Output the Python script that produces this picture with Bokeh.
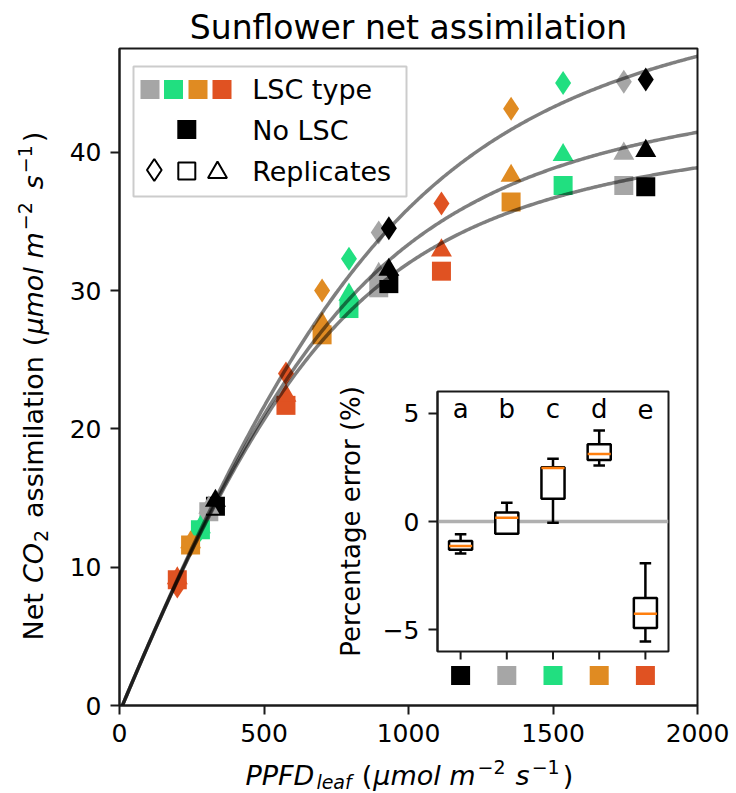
import numpy as np
from bokeh.plotting import figure
from bokeh.models import FixedTicker, Span, Range1d
from bokeh.layouts import column
from bokeh.embed import file_html
from bokeh.resources import INLINE
from bokeh.core.properties import value

FONT = "DejaVu Sans"

# ------------------------------------------------------------------ data
# LSC types in inset order (a..e): No LSC (black), grey, green, orange, red
lsc_colors = ["#000000", "#a6a6a6", "#21df80", "#e08b22", "#e05222"]
draw_order = [1, 2, 3, 4, 0]          # coloured LSCs first, "No LSC" on top

# PPFD_leaf at the three light levels, per LSC type
ppfd_low = [332, 309, 280, 246, 200]
ppfd_mid = [932, 897, 794, 701, 576]
ppfd_high = [1821, 1745, 1535, 1355, 1114]

# net CO2 assimilation per replicate (marker) and light level
diamond_low = [14.5, 14.1, 12.7, 11.6, 8.6]
diamond_mid = [34.5, 34.2, 32.3, 30.0, 24.0]
diamond_high = [45.25, 45.1, 45.0, 43.15, 36.3]
square_low = [14.4, 14.0, 12.7, 11.6, 9.1]
square_mid = [30.5, 30.2, 28.7, 26.8, 21.7]
square_high = [37.5, 37.6, 37.6, 36.4, 31.4]
triangle_low = [14.8, 14.3, 12.9, 11.8, 9.2]
triangle_mid = [31.5, 31.2, 29.7, 27.6, 22.4]
triangle_high = [40.1, 39.9, 39.8, 38.3, 32.9]

# light-response fits (non-rectangular hyperbola), one per replicate
fit_phi = [0.050, 0.050, 0.050]
fit_theta = [0.80, 0.80, 0.80]
fit_amax = [56.0, 44.5, 48.0]
fit_rd = [0.5, 0.5, 0.5]

# inset: percentage error per LSC type
err_letters = ["a", "b", "c", "d", "e"]
err_whisker_lo = [-1.48, -0.57, -0.06, 2.58, -5.54]
err_q1 = [-1.30, -0.56, 1.05, 2.84, -4.91]
err_median = [-1.13, 0.17, 2.47, 3.12, -4.26]
err_q3 = [-0.90, 0.42, 2.50, 3.56, -3.53]
err_whisker_hi = [-0.59, 0.86, 2.90, 4.20, -1.93]

main_ticks_x = [0, 500, 1000, 1500, 2000]
main_ticks_y = [0, 10, 20, 30, 40]
inset_ticks_y = [-5, 0, 5]

legend_texts = ["LSC type", "No LSC", "Replicates"]
title_text = "Sunflower net assimilation"

# axis titles split into pieces: (text, size px, style, baseline shift, gap before)
SP = 10  # width of a word space
xlabel_pieces = [("PPFD", 27, "italic", 0, 0), ("leaf", 19, "italic", 4, 2),
                 ("(", 27, "normal", 0, SP), ("\u03bcmol m", 27, "italic", 0, 1),
                 ("\u22122", 19, "normal", -11, 2), ("s", 27, "italic", 0, SP),
                 ("\u22121", 19, "normal", -11, 2), (")", 27, "normal", 0, 3)]
ylabel_pieces = [("Net", 27, "normal", 0, 0), ("CO", 27, "italic", 0, SP),
                 ("2", 19, "normal", 5, 1), ("assimilation", 27, "normal", 0, SP + 2),
                 ("(", 27, "normal", 0, SP), ("\u03bcmol m", 27, "italic", 0, 1),
                 ("\u22122", 19, "normal", -11, 2), ("s", 27, "italic", 0, SP + 3),
                 ("\u22121", 19, "normal", -11, 2), (")", 27, "normal", 0, 3)]

# ------------------------------------------------------------------ layout helpers
X_END, Y_END = 2000, 47.5
FW, FH = 578, 657
FL, FT = 119, 48          # page position of the main frame's top-left corner
BR = 36                   # right border shared by every figure of the column
BL_FIX = 0.35             # text glyphs sit this many em below the requested baseline

# approximate DejaVu Sans advance widths (em) used to chain the label pieces
ADV = {"P": .603, "F": .575, "D": .770, "l": .278, "e": .615, "a": .613, "f": .352,
       "(": .390, ")": .390, "\u03bc": .636, "m": .974, "o": .612, " ": .318,
       "\u2212": .838, "1": .636, "2": .636, "s": .521, "N": .748, "t": .392,
       "C": .698, "O": .787, "i": .278, "n": .634}


def text_width(txt, size):
    return sum(ADV.get(ch, 0.6) for ch in txt) * size


def dx(px):
    return (px - FL) / FW * X_END


def dy(py):
    return (FT + FH - py) / FH * Y_END


def style_axis(ax, size="25px"):
    ax.major_tick_out = 9
    ax.major_tick_in = 0
    ax.minor_tick_out = 0
    ax.minor_tick_in = 0
    ax.major_tick_line_width = 2
    ax.major_tick_line_color = "#1a1a1a"
    ax.axis_line_width = 2
    ax.axis_line_color = "#1a1a1a"
    ax.major_label_text_font = FONT
    ax.major_label_text_font_size = size
    ax.major_label_text_color = "black"
    ax.major_label_standoff = 9
    ax.axis_label_text_font = FONT
    ax.axis_label_text_font_style = "normal"
    ax.axis_label_text_color = "black"


def strip(frame_w, frame_h, x_range, y_range):
    """transparent helper figure with the same side borders as the main plot"""
    f = figure(frame_width=frame_w, frame_height=frame_h, x_range=x_range, y_range=y_range,
               min_border_left=FL, min_border_right=BR, min_border_top=0,
               min_border_bottom=0, x_axis_type=None, y_axis_type=None,
               output_backend="svg", toolbar_location=None)
    f.xgrid.visible = False
    f.ygrid.visible = False
    f.outline_line_color = None
    f.border_fill_alpha = 0
    f.background_fill_alpha = 0
    return f


# The column is stacked with explicit margins so that every piece lands on its
# page position; the main plot comes last (on top, transparent background).
flow = 0   # current bottom of the column's flow, page px

# ------------------------------------------------------------------ y-axis title strip
YL_LEFT, YL_W, YL_TOP, YL_H = 4, 56, 100, 560
yl = strip(YL_W, YL_H, Range1d(YL_LEFT, YL_LEFT + YL_W), Range1d(-(YL_TOP + YL_H), -YL_TOP))
Y_BASE, cy = 42, 640.0
for txt, size, style, shift, gap in ylabel_pieces:
    cy -= gap
    yl.text(x=[Y_BASE + shift - BL_FIX * size], y=[-cy], text=[txt], text_font=value(FONT),
            text_font_size=value(f"{size}px"), text_font_style=style, angle=np.pi / 2,
            text_baseline="alphabetic", text_align="left", text_color="black")
    cy -= text_width(txt, size)
yl.margin = (YL_TOP - flow, 0, 0, YL_LEFT - FL)
flow = YL_TOP + YL_H

# ------------------------------------------------------------------ x-axis title strip
XL_TOP, XL_H = 756, 37
xl = strip(FW, XL_H, Range1d(FL, FL + FW), Range1d(-(XL_TOP + XL_H), -XL_TOP))
X_BASE, cx = 784, 245.0
for txt, size, style, shift, gap in xlabel_pieces:
    cx += gap
    xl.text(x=[cx], y=[-(X_BASE + shift - BL_FIX * size)], text=[txt], text_font=value(FONT),
            text_font_size=value(f"{size}px"), text_font_style=style,
            text_baseline="alphabetic", text_align="left", text_color="black")
    cx += text_width(txt, size)
xl.margin = (XL_TOP - flow, 0, 0, 0)
flow = XL_TOP + XL_H

# ------------------------------------------------------------------ inset figure
cats = list(range(1, len(err_letters) + 1))
Q_FRAME_LEFT, Q_TOP, Q_H = 437, 386, 260
q = figure(frame_width=231, frame_height=Q_H, x_range=(0.5, len(cats) + 0.5),
           y_range=(-6, 6), min_border_left=FL, min_border_right=BR,
           min_border_top=5, min_border_bottom=5, x_axis_type=None,
           output_backend="svg", toolbar_location=None)
q.xgrid.visible = False
q.ygrid.visible = False
q.outline_line_color = "#1a1a1a"
q.outline_line_width = 2
q.outline_line_alpha = 1
q.border_fill_alpha = 0
q.background_fill_color = "white"
style_axis(q.yaxis[0])
q.yaxis.ticker = FixedTicker(ticks=inset_ticks_y)
q.yaxis.major_label_overrides = {t: (f"\u2212{abs(t)}" if t < 0 else str(t)) for t in inset_ticks_y}
q.yaxis.axis_label = "Percentage error (%)"
q.yaxis.axis_label_text_font_size = "26px"
q.yaxis.axis_label_standoff = 14

q.add_layout(Span(location=0, dimension="width", line_color="#b0b0b0",
                  line_width=3.5, level="underlay"))
q.segment(x0=cats, y0=err_q3, x1=cats, y1=err_whisker_hi, line_color="black", line_width=2.5)
q.segment(x0=cats, y0=err_q1, x1=cats, y1=err_whisker_lo, line_color="black", line_width=2.5)
q.segment(x0=[c - 0.125 for c in cats], y0=err_whisker_hi, x1=[c + 0.125 for c in cats],
          y1=err_whisker_hi, line_color="black", line_width=2.5)
q.segment(x0=[c - 0.125 for c in cats], y0=err_whisker_lo, x1=[c + 0.125 for c in cats],
          y1=err_whisker_lo, line_color="black", line_width=2.5)
q.quad(left=[c - 0.25 for c in cats], right=[c + 0.25 for c in cats], bottom=err_q1,
       top=err_q3, fill_color="white", line_color="black", line_width=2.5)
q.segment(x0=[c - 0.25 for c in cats], y0=err_median, x1=[c + 0.25 for c in cats],
          y1=err_median, line_color="#ff7f0e", line_width=2.5)
letter_y = 4.75 + BL_FIX * 26 / (Q_H / 12.0)
q.text(x=cats, y=[letter_y] * len(cats), text=err_letters, text_font=value(FONT),
       text_font_size="26px", text_align="center", text_baseline="alphabetic",
       text_color="black")
q.margin = (Q_TOP - flow, 0, 0, Q_FRAME_LEFT - FL)
flow = Q_TOP + 5 + Q_H + 5

# category ticks and colour keys under the inset
S_TOP, S_H = 651, 37
s = strip(231, S_H, q.x_range, Range1d(-(S_TOP + S_H), -S_TOP))
s.segment(x0=cats, y0=[-S_TOP] * len(cats), x1=cats, y1=[-(S_TOP + 8)] * len(cats),
          line_color="#1a1a1a", line_width=2)
s.scatter(x=cats, y=[-675] * len(cats), marker="square", size=19, fill_color=lsc_colors,
          line_color=None)
s.margin = (S_TOP - flow, 0, 0, Q_FRAME_LEFT - FL)
flow = S_TOP + S_H

# ------------------------------------------------------------------ main figure
p = figure(frame_width=FW, frame_height=FH, x_range=(0, X_END), y_range=(0, Y_END),
           min_border_left=FL, min_border_right=BR, min_border_top=FT,
           min_border_bottom=52, title=title_text,
           output_backend="svg", toolbar_location=None)
p.border_fill_alpha = 0
p.background_fill_alpha = 0
p.title.text_font = FONT
p.title.text_font_size = "33px"
p.title.text_font_style = "normal"
p.title.text_color = "black"
p.title.align = "center"
p.title.standoff = 3
p.xgrid.visible = False
p.ygrid.visible = False
p.outline_line_color = "#1a1a1a"
p.outline_line_width = 2
p.outline_line_alpha = 1
style_axis(p.xaxis[0])
style_axis(p.yaxis[0])
p.xaxis.ticker = FixedTicker(ticks=main_ticks_x)
p.yaxis.ticker = FixedTicker(ticks=main_ticks_y)

replicates = [("diamond", 24, diamond_low, diamond_mid, diamond_high),
              ("square", 19, square_low, square_mid, square_high),
              ("triangle", 21, triangle_low, triangle_mid, triangle_high)]
for name, size, lo, mid, hi in replicates:
    xs, ys, cs = [], [], []
    for i in draw_order:
        for xv, yv in ((ppfd_low[i], lo[i]), (ppfd_mid[i], mid[i]), (ppfd_high[i], hi[i])):
            xs.append(xv)
            ys.append(yv)
            cs.append(lsc_colors[i])
    p.scatter(x=xs, y=ys, marker=name, size=size, fill_color=cs, line_color=None)

ppfd_curve = np.linspace(0, X_END, 401)
for phi, th, am, rd in zip(fit_phi, fit_theta, fit_amax, fit_rd):
    b = phi * ppfd_curve + am
    ag = (b - np.sqrt(b * b - 4 * th * phi * ppfd_curve * am)) / (2 * th)
    p.line(ppfd_curve, ag - rd, line_color="black", line_alpha=0.5, line_width=3.5)

# legend (drawn by hand: a row of four colour swatches is not a Bokeh legend item)
p.quad(left=dx(133), right=dx(406), top=dy(66), bottom=dy(196),
       fill_color="white", fill_alpha=0.8, line_color="#cccccc", line_width=2)
p.scatter(x=[dx(v) for v in (149.5, 173, 197.5, 221.5)], y=[dy(89)] * 4,
          marker="square", size=19, fill_color=[lsc_colors[i] for i in (1, 2, 3, 4)],
          line_color=None)
p.scatter(x=[dx(186.3)], y=[dy(129)], marker="square", size=19,
          fill_color=lsc_colors[0], line_color=None)
for name, size, px, py in (("diamond", 22, 153.8, 169.5), ("square", 17, 186.3, 170.5),
                           ("triangle", 19, 217, 172)):
    p.scatter(x=[dx(px)], y=[dy(py)], marker=name, size=size, fill_color=None,
              line_color="black", line_width=2)
legend_baselines = [98.3, 139.5, 180]
p.text(x=[dx(251.7)] * 3, y=[dy(b - BL_FIX * 27) for b in legend_baselines],
       text=legend_texts, text_font=value(FONT), text_font_size="27px",
       text_baseline="alphabetic", text_color="black")
p.margin = (-flow, 0, 0, 0)

layout = column(yl, xl, q, s, p)
open("out.html", "w").write(file_html(layout, INLINE))
